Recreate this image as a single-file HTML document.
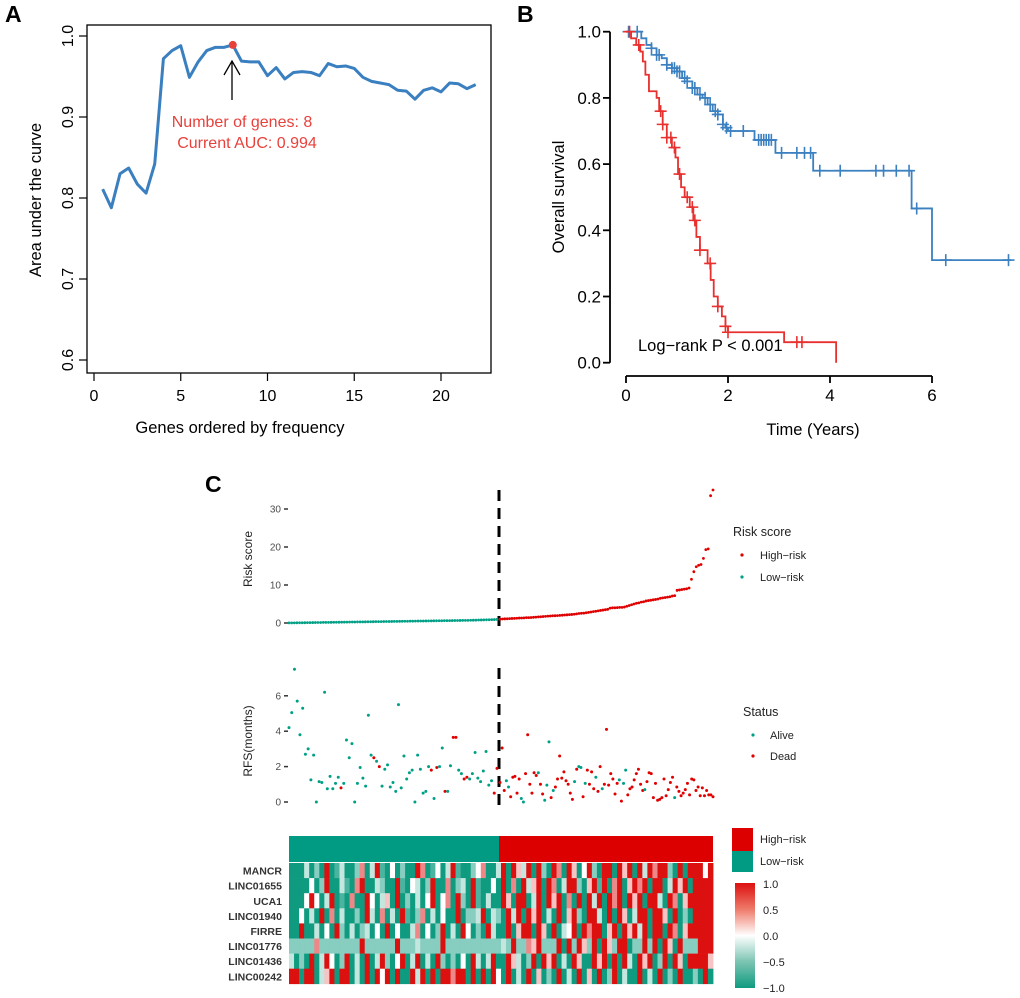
<!DOCTYPE html>
<html><head><meta charset="utf-8"><style>
html,body{margin:0;padding:0;background:#fff}
svg{display:block;font-family:"Liberation Sans",sans-serif}
</style></head><body>
<svg id="fig" width="1020" height="998" viewBox="0 0 1020 998" xmlns="http://www.w3.org/2000/svg">
<defs>
<linearGradient id="cbar" x1="0" y1="0" x2="0" y2="1">
<stop offset="0" stop-color="#dd1010"/><stop offset="0.25" stop-color="#ee7a6a"/><stop offset="0.5" stop-color="#ffffff"/><stop offset="0.75" stop-color="#7cc4b2"/><stop offset="1" stop-color="#0f9b80"/>
</linearGradient>
</defs>
<!-- Panel A -->
<text x="5" y="22" font-size="23" font-weight="bold">A</text>
<rect x="87" y="25" width="404" height="348" fill="none" stroke="#000" stroke-width="1.3"/>
<g id="axA"></g>
<text x="240" y="433" font-size="16.5" text-anchor="middle">Genes ordered by frequency</text>
<text transform="translate(41,200) rotate(-90)" font-size="16.5" text-anchor="middle">Area under the curve</text>
<g id="serA"></g>
<line x1="232" y1="100" x2="232" y2="61" stroke="#000" stroke-width="1.3"/>
<polyline points="224,75 232,61 240,75" fill="none" stroke="#000" stroke-width="1.3"/>
<text x="242" y="127" font-size="16" fill="#e8413c" text-anchor="middle">Number of genes: 8</text>
<text x="247" y="148" font-size="16" fill="#e8413c" text-anchor="middle">Current AUC: 0.994</text>

<!-- Panel B -->
<text x="517" y="22" font-size="23" font-weight="bold">B</text>
<g id="axB"></g>
<text x="813" y="435" font-size="16.5" text-anchor="middle">Time (Years)</text>
<text transform="translate(564,197) rotate(-90)" font-size="16.5" text-anchor="middle">Overall survival</text>
<g id="serB"></g>
<text x="638" y="351" font-size="16.5">Log−rank P &lt; 0.001</text>

<!-- Panel C -->
<text x="205" y="492" font-size="23" font-weight="bold">C</text>
<text transform="translate(252,559) rotate(-90)" font-size="12" fill="#222" text-anchor="middle">Risk score</text>
<text transform="translate(252,741) rotate(-90)" font-size="12" fill="#222" text-anchor="middle">RFS(months)</text>
<g id="axC"></g>
<line x1="499" y1="490" x2="499" y2="626" stroke="#000" stroke-width="3" stroke-dasharray="11,7"/>
<line x1="499" y1="668" x2="499" y2="812" stroke="#000" stroke-width="3" stroke-dasharray="11,7"/>
<g id="serC"></g>
<g id="heat"></g>
<g id="hlabels"></g>

<text x="733" y="536" font-size="12.5" fill="#222">Risk score</text>
<circle cx="742" cy="555" r="1.6" fill="#e00000"/>
<text x="760" y="559" font-size="11" fill="#222">High−risk</text>
<circle cx="742" cy="577" r="1.6" fill="#00a087"/>
<text x="760" y="581" font-size="11" fill="#222">Low−risk</text>
<text x="743" y="716" font-size="12.5" fill="#222">Status</text>
<circle cx="753" cy="735" r="1.6" fill="#00a087"/>
<text x="770" y="739" font-size="11" fill="#222">Alive</text>
<circle cx="753" cy="756" r="1.6" fill="#e00000"/>
<text x="770" y="760" font-size="11" fill="#222">Dead</text>

<rect x="732" y="828" width="21" height="23" fill="#dd0000"/>
<rect x="732" y="851" width="21" height="21" fill="#009b82"/>
<text x="760" y="843" font-size="11" fill="#222">High−risk</text>
<text x="760" y="865" font-size="11" fill="#222">Low−risk</text>
<rect x="735" y="883" width="20" height="105" fill="url(#cbar)"/>
<g font-size="11" fill="#222">
<text x="763" y="888">1.0</text><text x="763" y="914">0.5</text><text x="763" y="940">0.0</text><text x="763" y="966">−0.5</text><text x="763" y="992">−1.0</text>
</g>
</svg>
<script>
// ---------- Panel A data ----------
const aucX = [0.5,1,1.5,2,2.5,3,3.5,4,4.5,5,5.5,6,6.5,7,7.5,8,8.5,9,9.5,10,10.5,11,11.5,12,12.5,13,13.5,14,14.5,15,15.5,16,16.5,17,17.5,18,18.5,19,19.5,20,20.5,21,21.5,22];
const aucY = [0.811,0.788,0.830,0.837,0.817,0.806,0.842,0.972,0.982,0.988,0.949,0.968,0.982,0.986,0.986,0.989,0.969,0.968,0.968,0.951,0.961,0.947,0.955,0.956,0.955,0.951,0.966,0.962,0.963,0.960,0.949,0.944,0.942,0.940,0.933,0.932,0.922,0.933,0.936,0.931,0.942,0.941,0.935,0.940];
const aXTicks = [0,5,10,15,20];
const aYTicks = [0.6,0.7,0.8,0.9,1.0];
const bestN = 8;
// ---------- Panel B data ----------
const blueT = [0,0.3,0.4,0.5,0.6,0.7,0.8,0.9,1.0,1.1,1.2,1.3,1.4,1.5,1.6,1.7,1.8,1.9,1.95,2.0,2.52,2.93,3.67,5.6,6.0];
const blueS = [1,0.98,0.96,0.95,0.93,0.92,0.90,0.89,0.88,0.86,0.85,0.83,0.81,0.80,0.78,0.76,0.75,0.72,0.71,0.70,0.673,0.634,0.58,0.466,0.31];
const blueEnd = 7.55;
const blueCens = [0.05,0.22,0.5,0.6,0.65,0.8,0.9,0.95,1.0,1.05,1.15,1.2,1.3,1.35,1.45,1.55,1.65,1.75,1.8,1.9,1.97,2.05,2.3,2.6,2.65,2.7,2.75,2.8,2.85,3.05,3.35,3.5,3.62,3.8,4.2,4.9,5.05,5.3,5.55,5.7,6.27,7.5];
const redT = [0,0.1,0.2,0.28,0.33,0.38,0.45,0.6,0.65,0.72,0.8,0.9,0.97,1.02,1.08,1.15,1.25,1.32,1.38,1.45,1.6,1.66,1.72,1.8,1.88,1.95,2.0,3.1,4.12];
const redS = [1,0.98,0.96,0.94,0.91,0.87,0.82,0.80,0.76,0.72,0.68,0.65,0.62,0.57,0.53,0.50,0.47,0.43,0.38,0.34,0.30,0.25,0.20,0.17,0.14,0.11,0.092,0.062,0.0];
const redCens = [0.07,0.25,0.68,0.72,0.8,0.88,0.95,1.05,1.2,1.3,1.35,1.45,1.65,1.8,1.95,2.0,3.35,3.45];
const bXTicks = [0,2,4,6];
const bYTicks = [0,0.2,0.4,0.6,0.8,1.0];
// ---------- Panel C data ----------
const riskLow = [0.02,0.03,0.04,0.05,0.06,0.07,0.08,0.09,0.10,0.11,0.12,0.13,0.14,0.15,0.16,0.17,0.18,0.19,0.20,0.21,0.22,0.23,0.24,0.25,0.26,0.27,0.28,0.29,0.30,0.31,0.32,0.33,0.34,0.35,0.36,0.37,0.38,0.39,0.40,0.41,0.42,0.43,0.44,0.45,0.46,0.47,0.48,0.49,0.50,0.51,0.52,0.53,0.54,0.55,0.56,0.57,0.58,0.59,0.60,0.61,0.62,0.63,0.64,0.65,0.66,0.67,0.68,0.69,0.70,0.72,0.74,0.76,0.78,0.80,0.82,0.84,0.86,0.88,0.90,0.95];
const riskHigh = [1.0,1.05,1.1,1.12,1.15,1.2,1.22,1.25,1.3,1.32,1.35,1.4,1.42,1.45,1.5,1.55,1.6,1.65,1.7,1.75,1.8,1.85,1.9,1.92,1.95,2.0,2.05,2.1,2.15,2.2,2.25,2.3,2.4,2.5,2.55,2.6,2.7,2.8,2.9,3.0,3.1,3.2,3.3,3.4,3.5,3.6,3.9,4.0,4.0,4.05,4.1,4.1,4.2,4.4,4.6,4.8,5.0,5.2,5.3,5.5,5.6,5.8,5.9,6.0,6.1,6.2,6.3,6.5,6.6,6.7,6.8,6.9,7.1,7.2,8.6,8.7,8.8,8.9,9.0,9.2,11.5,13.5,14.8,15.2,15.4,17.0,19.3,19.5,33.5,35];
const rfsLow = [4.2,5.05,7.5,5.7,3.8,5.3,2.7,3.0,1.25,2.65,0.0,1.15,1.1,6.2,0.75,1.45,0.75,1.05,1.4,0.8,1.05,3.5,2.5,3.3,0.0,1.05,1.95,1.35,0.9,4.9,2.65,2.5,2.3,2.0,0.9,1.85,2.1,0.85,1.1,0.6,5.5,0.8,2.6,1.3,1.65,1.8,0.0,2.65,1.85,0.5,0.6,2.0,1.8,0.2,1.95,2.0,3.05,0.6,0.6,2.05,3.65,3.65,1.8,1.6,1.3,1.4,1.3,1.6,2.8,1.35,1.15,1.75,2.85,0.95,1.2,0.5,1.9];
const deadLow = [0,0,0,0,0,0,0,0,0,0,0,0,0,0,0,0,0,0,0,1,0,0,0,0,0,0,0,0,0,0,0,1,0,1,0,0,0,0,0,0,0,0,0,0,0,0,0,0,0,0,0,0,1,0,1,0,0,1,0,0,1,1,0,0,1,1,0,0,0,0,0,0,0,0,0,1,1];
const rfsHigh = [1.1,3.05,0.65,1.2,0.85,0.3,1.4,1.45,0.5,1.3,0.2,0.0,1.6,3.8,1.0,0.5,1.65,1.5,1.65,1.0,0.45,0.1,0.95,3.4,0.25,0.65,0.85,1.3,2.6,1.35,1.7,1.2,1.0,0.5,0.15,1.15,1.85,2.0,1.95,0.3,1.05,1.8,1.0,1.7,0.75,1.4,0.6,2.0,0.75,1.0,4.1,0.95,1.6,1.3,0.45,1.05,1.25,0.05,1.05,1.8,0.4,0.75,0.85,1.25,1.6,1.85,1.0,0.65,0.7,1.15,1.65,1.6,0.25,1.05,0.1,0.15,0.25,1.3,0.35,0.7,1.1,1.4,0.25,0.85,0.6,0.35,0.5,0.7,1.05,0.4,1.3,1.25,0.65,0.85,0.35,0.8,0.35,0.65,0.4,0.4,0.3];
const deadHigh = [1,1,1,0,0,1,1,1,1,1,0,0,1,1,1,1,1,1,0,1,1,0,0,0,1,0,1,1,1,1,1,1,1,1,1,0,1,0,0,1,0,1,1,1,1,0,1,1,0,1,1,1,1,1,1,1,0,1,0,0,1,1,1,1,1,1,1,1,0,1,1,1,1,1,1,1,1,1,1,1,1,1,0,1,1,1,1,1,1,1,1,1,1,1,1,1,1,1,1,1,1];
const riskTicks = [0,10,20,30];
const rfsTicks = [0,2,4,6];
const genes = ["MANCR","LINC01655","UCA1","LINC01940","FIRRE","LINC01776","LINC01436","LINC00242"];
// expression levels 0..8 -> -1..1, left half low-risk, right half high-risk
const exprRows = [
"000302080130026038104020086014038100246003808538082086085048208808580838688208088848",
"000040280031068003200810430280060230810040806083580860388205818068058680880385808888",
"000484038010600840350802030480460820810300850880380858060808380868085808830860588888",
"004030806030020830603081026030400802238032083808580308058208830808503880885080208888",
"008003040820302304080400360402803084020830080588085080348086880580858380880860588888",
"222226222222228222222822232222822222222222328226582228082852808528802282808508222888",
"302080384028030803820480380308202040830380085302808580308500858080830858028085088885",
"880880358088030808480800838080886880808084080308050208030805080280300803080208002080"
];
const groupLowCount = 42;

const NS = "http://www.w3.org/2000/svg";
function mk(parent, tag, attrs){const e=document.createElementNS(NS,tag);for(const k in attrs)e.setAttribute(k,attrs[k]);document.getElementById(parent).appendChild(e);return e;}

// ---- Panel A ----
const ax = v => 94 + v*17.35;
const ay = v => 36 + (1-v)*810;
aXTicks.forEach(t=>{
  const l=mk("axA","line",{x1:ax(t),x2:ax(t),y1:373,y2:381,stroke:"#000","stroke-width":1.2});
  
  
  const s=mk("axA","text",{x:ax(t),y:401,"font-size":16,"text-anchor":"middle"});s.textContent=t;
  
  
});
aYTicks.forEach(t=>{
  const l=mk("axA","line",{x1:79,x2:87,y1:ay(t),y2:ay(t),stroke:"#000","stroke-width":1.2});
  
  
  const s=mk("axA","text",{transform:`translate(73,${ay(t)}) rotate(-90)`,"font-size":16,"text-anchor":"middle"});s.textContent=t.toFixed(1);
  
  
});
const pA = mk("serA","polyline",{points:aucX.map((x,i)=>ax(x)+","+ay(aucY[i])).join(" "),fill:"none",stroke:"#3a7fc0","stroke-width":3,"stroke-linejoin":"round"});


const bi = aucX.indexOf(bestN);
const dA = mk("serA","circle",{cx:ax(bestN),cy:ay(aucY[bi]),r:4,fill:"#e8413c"});



// ---- Panel B ----
const bx = t => 626 + t*51;
const by = v => 362.7 - v*331;
const bA1=mk("axB","line",{x1:610,x2:610,y1:by(1),y2:by(0),stroke:"#000","stroke-width":1.8});


const bA2=mk("axB","line",{x1:bx(0),x2:bx(6),y1:376,y2:376,stroke:"#000","stroke-width":1.8});


bYTicks.forEach(t=>{
  const l=mk("axB","line",{x1:603,x2:610,y1:by(t),y2:by(t),stroke:"#000","stroke-width":1.8});
  
  
  const s=mk("axB","text",{x:601,y:by(t)+6,"font-size":17,"text-anchor":"end"});s.textContent=t.toFixed(1);
  
  
});
bXTicks.forEach(t=>{
  const l=mk("axB","line",{x1:bx(t),x2:bx(t),y1:376,y2:383,stroke:"#000","stroke-width":1.8});
  
  
  const s=mk("axB","text",{x:bx(t),y:401,"font-size":17,"text-anchor":"middle"});s.textContent=t;
  
  
});
function survAt(T,S,t){let s=S[0];for(let i=0;i<T.length;i++){if(T[i]<=t)s=S[i];}return s;}
function stepPts(T,S,end){let p=[];for(let i=0;i<T.length;i++){if(i>0)p.push(bx(T[i])+","+by(S[i-1]));p.push(bx(T[i])+","+by(S[i]));}p.push(bx(end)+","+by(S[S.length-1]));return p.join(" ");}
const blueLine=mk("serB","polyline",{points:stepPts(blueT,blueS,blueEnd),fill:"none",stroke:"#3b80c0","stroke-width":1.8});


const redLine=mk("serB","polyline",{points:stepPts(redT,redS,redT[redT.length-1]),fill:"none",stroke:"#e8302f","stroke-width":1.8});


blueCens.forEach(t=>{
  const y=by(survAt(blueT,blueS,t)),x=bx(t);
  const c=mk("serB","path",{d:`M${x-6},${y}H${x+6}M${x},${y-6}V${y+6}`,stroke:"#3b80c0","stroke-width":1.6});
  
  
});
redCens.forEach(t=>{
  const y=by(survAt(redT,redS,t)),x=bx(t);
  const c=mk("serB","path",{d:`M${x-6},${y}H${x+6}M${x},${y-6}V${y+6}`,stroke:"#e8302f","stroke-width":1.6});
  
  
});

// ---- Panel C ----
const cx0=289, cSplit=499, cx1=713;
const ry = v => 623 - v*3.8;
const fy = v => 802 - v*17.7;
riskTicks.forEach(t=>{
  const l=mk("axC","line",{x1:284,x2:288,y1:ry(t),y2:ry(t),stroke:"#333","stroke-width":1.5});
  
  
  const s=mk("axC","text",{x:281,y:ry(t)+3.5,"font-size":10,fill:"#4d4d4d","text-anchor":"end"});s.textContent=t;
  
  
});
rfsTicks.forEach(t=>{
  const l=mk("axC","line",{x1:284,x2:288,y1:fy(t),y2:fy(t),stroke:"#333","stroke-width":1.5});
  
  
  const s=mk("axC","text",{x:281,y:fy(t)+3.5,"font-size":10,fill:"#4d4d4d","text-anchor":"end"});s.textContent=t;
  
  
});
function gx(i,n,a,b){return n<2?a:a+(b-a)*i/(n-1);}
riskLow.forEach((v,i)=>{
  const c=mk("serC","circle",{cx:gx(i,riskLow.length,cx0,cSplit-2),cy:ry(v),r:1.4,fill:"#00a087"});
  
  
});
riskHigh.forEach((v,i)=>{
  const c=mk("serC","circle",{cx:gx(i,riskHigh.length,cSplit+1,cx1),cy:ry(v),r:1.4,fill:"#e00000"});
  
  
});
rfsLow.forEach((v,i)=>{
  const c=mk("serC","circle",{cx:gx(i,rfsLow.length,cx0,cSplit-2),cy:fy(v),r:1.5,fill:deadLow[i]?"#e00000":"#00a087"});
  
  
});
rfsHigh.forEach((v,i)=>{
  const c=mk("serC","circle",{cx:gx(i,rfsHigh.length,cSplit+1,cx1),cy:fy(v),r:1.5,fill:deadHigh[i]?"#e00000":"#00a087"});
  
  
});
// group bar
const gLow=mk("heat","rect",{x:cx0,y:836,width:cSplit-cx0,height:26,fill:"#009b82"});


const gHigh=mk("heat","rect",{x:cSplit,y:836,width:cx1-cSplit,height:26,fill:"#dd0000"});


function lerp(a,b,t){return Math.round(a+(b-a)*t);}
function colorOf(v){
  if(v>=0){return `rgb(${lerp(255,221,v)},${lerp(255,16,v)},${lerp(255,16,v)})`;}
  const t=-v;return `rgb(${lerp(255,15,t)},${lerp(255,155,t)},${lerp(255,128,t)})`;
}
const hTop=863, rowH=15.1;
exprRows.forEach((row,r)=>{
  const n=row.length, w=(cx1-cx0)/n;
  for(let j=0;j<n;j++){
    const v=(parseInt(row[j])-4)/4;
    const c=mk("heat","rect",{x:(cx0+j*w).toFixed(2),y:(hTop+r*rowH).toFixed(2),width:(w+0.4).toFixed(2),height:rowH+0.3,fill:colorOf(v)});
    
    
  }
  const s=mk("hlabels","text",{x:282,y:hTop+r*rowH+rowH/2+4,"font-size":10.5,"font-weight":"bold",fill:"#333","text-anchor":"end"});
  s.textContent=genes[r];
  
  
});
</script>
</body></html>
